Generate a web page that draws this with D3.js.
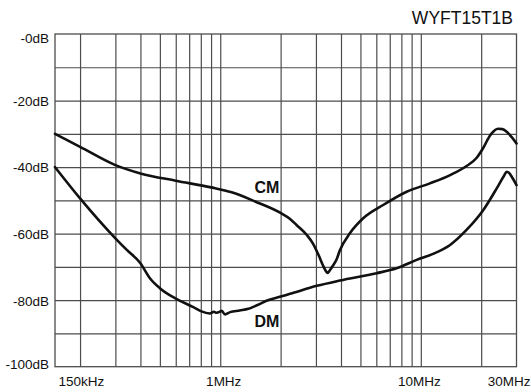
<!DOCTYPE html>
<html><head><meta charset="utf-8">
<script src="https://cdn.jsdelivr.net/npm/d3@7"></script>
<style>
html,body{margin:0;padding:0;background:#fff;}
svg{display:block;font-family:"Liberation Sans",Arial,Helvetica,sans-serif;}
</style></head>
<body><svg id="c" width="531" height="392"></svg>
<script>
const title = "WYFT15T1B";
// frequencies in MHz, attenuation in dB
const cmFreq = [0.15,0.2,0.3,0.4,0.6,0.9,1.14,1.5,2.0,2.23,2.4,2.7,2.9,3.1,3.25,3.36,3.43,3.52,3.65,3.81,3.95,4.43,5.16,6.49,8.5,11.1,14.0,17.0,19.0,20.5,22.1,23.3,24.3,25.5,26.8,28.4,30];
const cmDb   = [-30,-33.9,-39.4,-41.9,-44.1,-46.1,-47.6,-50.4,-53.8,-55.6,-57.4,-60.4,-63.0,-66.6,-69.5,-71.2,-71.8,-71.0,-69.6,-67.6,-65.0,-59.9,-55.4,-51.4,-47.4,-44.9,-42.4,-39.6,-37.2,-34.2,-30.6,-29.0,-28.5,-28.6,-29.4,-31.0,-32.9];
const dmFreq = [0.15,0.2,0.3,0.342,0.4,0.446,0.5,0.607,0.734,0.8,0.889,0.93,0.96,1.0,1.016,1.056,1.12,1.25,1.38,1.45,1.515,1.58,1.7,1.98,2.23,3.03,3.95,6.02,7.57,9.53,11.5,14.0,16.9,20.5,23.9,26.0,26.8,27.6,28.4,30];
const dmDb   = [-40,-49.4,-61.4,-64.9,-68.9,-73.4,-76.4,-79.7,-82.1,-83.3,-84.0,-83.5,-83.8,-83.4,-83.2,-84.3,-83.6,-83.1,-82.6,-82.1,-81.6,-81.1,-80.2,-79.0,-78.1,-75.7,-74.1,-71.9,-70.4,-67.9,-66.1,-63.4,-58.9,-52.9,-46.4,-42.6,-41.4,-41.8,-42.9,-45.4];
const gridFreq = [0.2,0.3,0.4,0.5,0.6,0.7,0.8,0.9,1,2,3,4,5,6,7,8,9,10,20];
const gridDb = [-90,-80,-70,-60,-50,-40,-30,-20,-10];
const xTickFreq = [0.15,1,10,30];
const xTickLabels = ["150kHz","1MHz","10MHz","30MHz"];
const yTickDb = [0,-20,-40,-60,-80,-100];
const yTickLabels = ["-0dB","-20dB","-40dB","-60dB","-80dB","-100dB"];
const seriesLabels = ["CM","DM"];
const labelAnchors = [[1.48,-47.9],[1.48,-88.2]];

const L=55,R=516.5,T=34,B=366.7;
const svg = d3.select("#c");
const x = d3.scaleLog().domain([0.15,30]).range([L,R]);
const y = d3.scaleLinear().domain([-100,0]).range([B,T]);
const gridCol="#4d4d4d";

// vertical grid
svg.append("g").attr("transform",`translate(0,${B})`)
  .call(d3.axisBottom(x).tickValues(gridFreq).tickSize(-(B-T)).tickFormat(""))
  .call(g=>{g.select(".domain").remove();g.selectAll("line").attr("stroke",gridCol).attr("stroke-width",1.2);});
// horizontal grid
svg.append("g").attr("transform",`translate(${L},0)`)
  .call(d3.axisLeft(y).tickValues(gridDb).tickSize(-(R-L)).tickFormat(""))
  .call(g=>{g.select(".domain").remove();g.selectAll("line").attr("stroke",gridCol).attr("stroke-width",1.2);});
// border
svg.append("rect").attr("x",L).attr("y",T).attr("width",R-L).attr("height",B-T)
  .attr("fill","none").attr("stroke",gridCol).attr("stroke-width",1.3);

// y labels
svg.append("g").attr("transform",`translate(${L},0)`)
  .call(d3.axisLeft(y).tickValues(yTickDb).tickSize(0).tickPadding(6).tickFormat((d,i)=>yTickLabels[i]))
  .call(g=>{g.select(".domain").remove();
    g.selectAll("text").attr("font-size",13.5).attr("fill","#111").attr("font-family","Liberation Sans, Arial, sans-serif")
     .attr("dy",(d)=> d===0? "0.62em" : d===-100 ? "0.1em" : "0.36em");});
// x labels
svg.append("g").attr("transform",`translate(0,${B})`)
  .call(d3.axisBottom(x).tickValues(xTickFreq).tickSize(0).tickPadding(6).tickFormat((d,i)=>xTickLabels[i]))
  .call(g=>{g.select(".domain").remove();
    g.selectAll("text").attr("font-size",13.5).attr("fill","#111").attr("font-family","Liberation Sans, Arial, sans-serif")
     .attr("dy","0.95em")
     .attr("text-anchor",(d,i)=> i===0?"start":"middle")
     .attr("dx",(d,i)=> i===0?3 : i===1?3 : i===2?-2 : -8);});

// title
svg.append("text").attr("x",513).attr("y",24).attr("text-anchor","end")
  .attr("font-size",17.5).attr("fill","#111").text(title);

// curves
const line = d3.line().x(d=>x(d[0])).y(d=>y(d[1])).curve(d3.curveMonotoneX);
const cm = cmFreq.map((f,i)=>[f,cmDb[i]]);
const dm = dmFreq.map((f,i)=>[f,dmDb[i]]);
[cm,dm].forEach(s=>{
  svg.append("path").attr("d",line(s)).attr("fill","none").attr("stroke","#111")
    .attr("stroke-width",2.6).attr("stroke-linejoin","round").attr("stroke-linecap","round");
});
// series labels
seriesLabels.forEach((t,i)=>{
  svg.append("text").attr("x",x(labelAnchors[i][0])).attr("y",y(labelAnchors[i][1]))
    .attr("font-size",16).attr("font-weight","bold").attr("fill","#111").text(t);
});
</script></body></html>
